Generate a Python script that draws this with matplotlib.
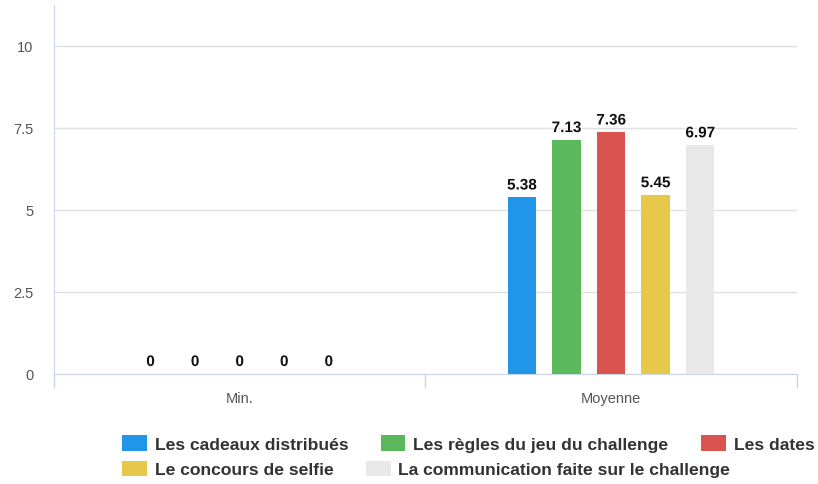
import matplotlib.pyplot as plt
import matplotlib.patheffects as pe
from matplotlib.patches import Patch
import numpy as np

categories = ['Min.', 'Moyenne']
series_names = ['Les cadeaux distribués', 'Les règles du jeu du challenge', 'Les dates',
                'Le concours de selfie', 'La communication faite sur le challenge']
series_values = [
    [0, 5.38],
    [0, 7.13],
    [0, 7.36],
    [0, 5.45],
    [0, 6.97],
]
colors = ['#2196e8', '#5cb85c', '#d9534f', '#e8c84a', '#e8e8e8']
y_ticks = [0, 2.5, 5, 7.5, 10]
y_tick_labels = ['0', '2.5', '5', '7.5', '10']

plt.rcParams['font.family'] = ['Liberation Sans', 'DejaVu Sans']

fig = plt.figure(figsize=(8.18, 4.85), dpi=100)
ax = fig.add_axes([0.066, 0.227, 0.908, 0.761])

x = np.arange(len(categories))
step = 0.12
width = 0.076
for i, (name, vals, col) in enumerate(zip(series_names, series_values, colors)):
    pos = x + (i - 2) * step
    ax.bar(pos, vals, width=width, color=col, label=name, zorder=3)
    for p, v in zip(pos, vals):
        t = ax.text(p, v + 0.15, f'{v:g}', ha='center', va='bottom',
                    fontsize=11, fontweight='bold', color='#111111', zorder=4)
        t.set_path_effects([pe.withStroke(linewidth=2, foreground='white')])

ax.set_xlim(-0.5, 1.5)
ax.set_ylim(0, 11.25)
ax.set_yticks(y_ticks)
ax.set_yticklabels(y_tick_labels)
ax.set_xticks(x)
ax.set_xticklabels(categories)
ax.set_xticks([-0.5, 0.5, 1.5], minor=True)
ax.tick_params(axis='x', which='major', length=0, pad=12, labelsize=10.5, labelcolor='#555555')
ax.tick_params(axis='x', which='minor', length=10, color='#ccd6eb', width=1)
ax.tick_params(axis='y', length=0, pad=15, labelsize=10.5, labelcolor='#555555')

ax.grid(axis='y', color='#e0e0e0', linewidth=1, zorder=0)
for s in ['top', 'right']:
    ax.spines[s].set_visible(False)
ax.spines['left'].set_color('#ccd6eb')
ax.spines['bottom'].set_color('#ccd6eb')

handles = [Patch(facecolor=c, edgecolor='none') for c in colors]
leg_kw = dict(frameon=False, handlelength=1.42, handleheight=1.0, handletextpad=0.45,
              columnspacing=1.85, borderaxespad=0, borderpad=0,
              prop={'weight': 'bold', 'size': 12.6})
leg1 = fig.legend(handles[:3], series_names[:3], ncol=3, loc='center left',
                  bbox_to_anchor=(0.149, 0.083), **leg_kw)
leg2 = fig.legend(handles[3:], series_names[3:], ncol=2, loc='center left',
                  bbox_to_anchor=(0.149, 0.031), **leg_kw)
for leg in (leg1, leg2):
    for t in leg.get_texts():
        t.set_color('#333333')

fig.savefig('out.png', dpi=100)
